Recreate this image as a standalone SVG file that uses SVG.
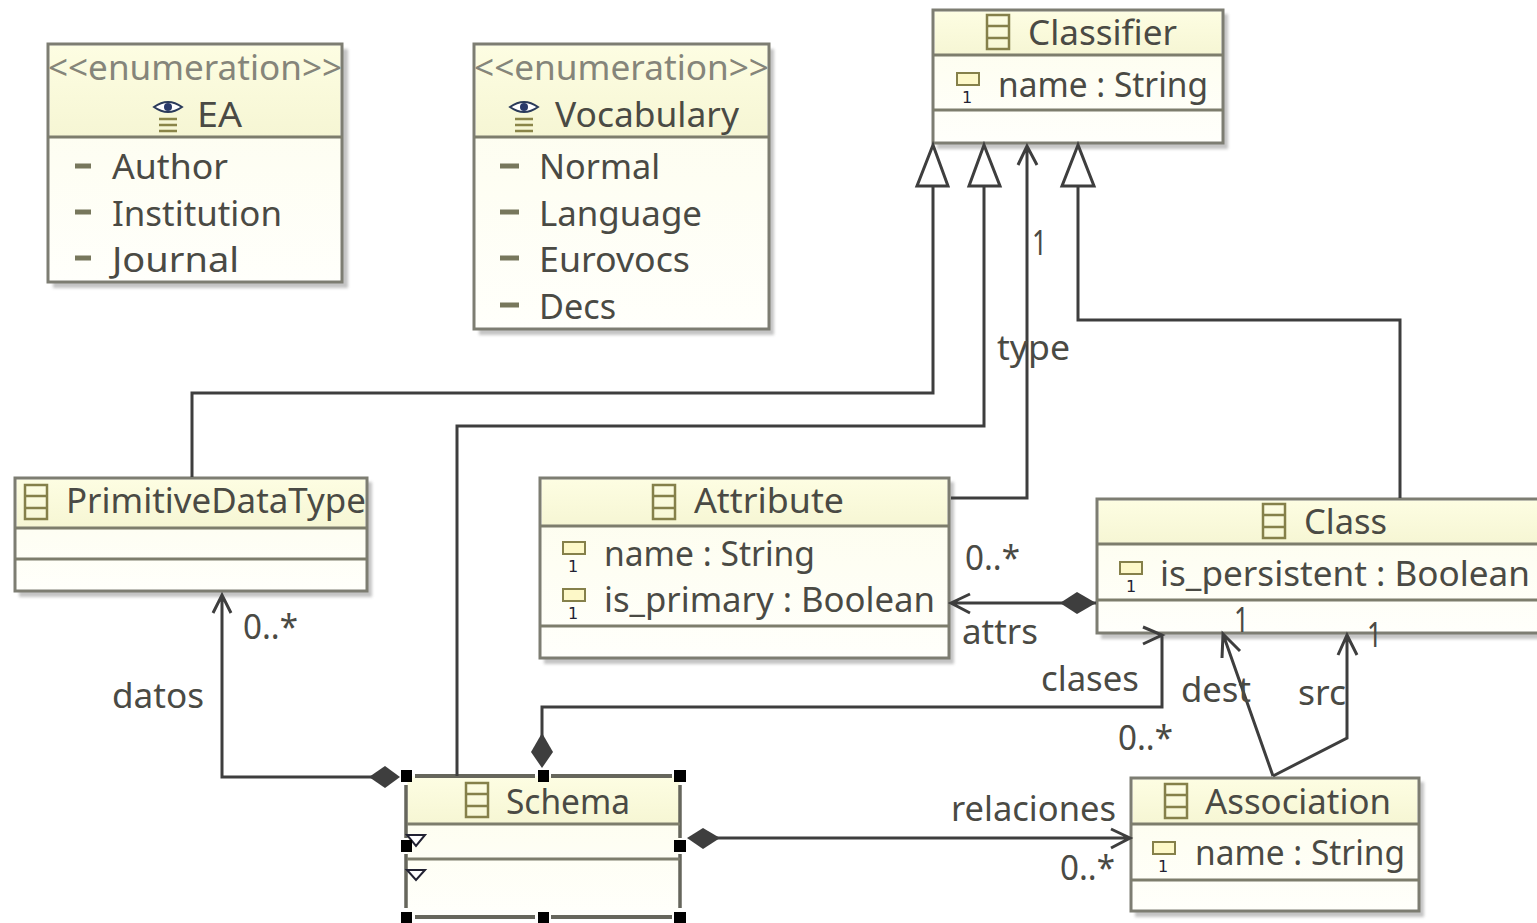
<svg xmlns="http://www.w3.org/2000/svg" width="1537" height="923" viewBox="0 0 1537 923">
<style>
text{font-family:"Noto Sans","Open Sans","DejaVu Sans",sans-serif;font-size:35px;fill:#4a4a44}
.st{fill:#85857a}
.one{font-size:16px;fill:#223;font-family:"DejaVu Sans",sans-serif}
.box{fill:url(#bg);stroke:#7d7d72;stroke-width:3}
.sh{fill:#c4c4c4;filter:url(#bl)}
.hd{fill:url(#hg)}
.sep{stroke:#7d7d6c;stroke-width:3;fill:none}
.c{fill:none;stroke:#3e3e3e;stroke-width:3}
.tri{fill:#fff;stroke:#3e3e3e;stroke-width:3}
.dia{fill:#3e3e3e;stroke:none}
.ic{fill:none;stroke:#85804a;stroke-width:2.5}
.pr{fill:#fdf8c8;stroke:#85804a;stroke-width:2}
.dash{stroke:#77775c;stroke-width:5}
.h{fill:#000}
</style>
<defs>
<filter id="bl" x="-5%" y="-5%" width="110%" height="110%"><feGaussianBlur stdDeviation="1.5"/></filter>
<linearGradient id="hg" x1="0" y1="0" x2="0" y2="1"><stop offset="0" stop-color="#fdfde2"/><stop offset="1" stop-color="#f6f6d4"/></linearGradient>
<linearGradient id="bg" x1="0" y1="0" x2="0" y2="1"><stop offset="0" stop-color="#fdfdec"/><stop offset="1" stop-color="#fffffb"/></linearGradient>
<g id="ci"><rect class="ic" x="0" y="0" width="22" height="34"/><path class="ic" d="M0 11H22M0 23H22"/></g>
<rect id="pi" class="pr" x="0" y="0" width="22" height="12"/>
<g id="ei"><path d="M-14 0Q0 -10 14 0Q0 10 -14 0Z" fill="#fff" stroke="#2a3a5a" stroke-width="2"/><circle r="4" fill="#2a3a6a"/><path d="M-9 12H9M-9 18H9M-9 24H9" stroke="#8a8548" stroke-width="2.5"/></g>
</defs>

<g id="node-ea">
<rect class="sh" x="53" y="49" width="295" height="239"/>
<rect class="box" x="48" y="44" width="294" height="238"/>
<rect class="hd" x="50" y="46" width="290" height="90"/>
<line class="sep" x1="48" y1="137" x2="342" y2="137"/>
<text class="st" x="48" y="80" textLength="294" lengthAdjust="spacingAndGlyphs">&lt;&lt;enumeration&gt;&gt;</text>
<use href="#ei" x="168" y="107"/>
<text x="197" y="127" textLength="45" lengthAdjust="spacingAndGlyphs">EA</text>
<line class="dash" x1="75" y1="166" x2="91" y2="166"/><text x="112" y="179" textLength="116" lengthAdjust="spacingAndGlyphs">Author</text>
<line class="dash" x1="75" y1="212" x2="91" y2="212"/><text x="112" y="226" textLength="170" lengthAdjust="spacingAndGlyphs">Institution</text>
<line class="dash" x1="75" y1="258" x2="91" y2="258"/><text x="112" y="272" textLength="127" lengthAdjust="spacingAndGlyphs">Journal</text>
</g>

<g id="node-vocabulary">
<rect class="sh" x="479" y="49" width="295" height="286"/>
<rect class="box" x="474" y="44" width="295" height="285"/>
<rect class="hd" x="476" y="46" width="291" height="90"/>
<line class="sep" x1="474" y1="137" x2="769" y2="137"/>
<text class="st" x="474" y="80" textLength="295" lengthAdjust="spacingAndGlyphs">&lt;&lt;enumeration&gt;&gt;</text>
<use href="#ei" x="524" y="107"/>
<text x="555" y="127" textLength="184" lengthAdjust="spacingAndGlyphs">Vocabulary</text>
<line class="dash" x1="500" y1="166" x2="519" y2="166"/><text x="539" y="179" textLength="121" lengthAdjust="spacingAndGlyphs">Normal</text>
<line class="dash" x1="500" y1="212" x2="519" y2="212"/><text x="539" y="226" textLength="163" lengthAdjust="spacingAndGlyphs">Language</text>
<line class="dash" x1="500" y1="258" x2="519" y2="258"/><text x="539" y="272" textLength="151" lengthAdjust="spacingAndGlyphs">Eurovocs</text>
<line class="dash" x1="500" y1="305" x2="519" y2="305"/><text x="539" y="319" textLength="77" lengthAdjust="spacingAndGlyphs">Decs</text>
</g>

<g id="node-classifier">
<rect class="sh" x="937" y="14" width="291" height="135"/>
<rect class="box" x="933" y="10" width="290" height="133"/>
<rect class="hd" x="935" y="12" width="286" height="42"/>
<path class="sep" d="M933 55H1223M933 110H1223"/>
<use href="#ci" x="987" y="15"/>
<text x="1028" y="45" textLength="149" lengthAdjust="spacingAndGlyphs">Classifier</text>
<use href="#pi" x="957" y="73"/><text class="one" x="962" y="103">1</text>
<text x="998" y="97" textLength="210" lengthAdjust="spacingAndGlyphs">name : String</text>
</g>

<g id="node-primitivedatatype">
<rect class="sh" x="19" y="482" width="353" height="115"/>
<rect class="box" x="15" y="478" width="352" height="113"/>
<rect class="hd" x="17" y="480" width="348" height="47"/>
<path class="sep" d="M15 528H367M15 559H367"/>
<use href="#ci" x="25" y="485"/>
<text x="66" y="513" textLength="300" lengthAdjust="spacingAndGlyphs">PrimitiveDataType</text>
</g>

<g id="node-attribute">
<rect class="sh" x="544" y="482" width="410" height="182"/>
<rect class="box" x="540" y="478" width="409" height="180"/>
<rect class="hd" x="542" y="480" width="405" height="45"/>
<path class="sep" d="M540 526H949M540 626H949"/>
<use href="#ci" x="653" y="485"/>
<text x="694" y="513" textLength="150" lengthAdjust="spacingAndGlyphs">Attribute</text>
<use href="#pi" x="563" y="542"/><text class="one" x="568" y="572">1</text>
<text x="604" y="566" textLength="211" lengthAdjust="spacingAndGlyphs">name : String</text>
<use href="#pi" x="563" y="589"/><text class="one" x="568" y="619">1</text>
<text x="604" y="612" textLength="331" lengthAdjust="spacingAndGlyphs">is_primary : Boolean</text>
</g>

<g id="node-class">
<rect class="sh" x="1101" y="503" width="440" height="136"/>
<rect class="box" x="1097" y="499" width="444" height="134"/>
<rect class="hd" x="1099" y="501" width="438" height="42"/>
<path class="sep" d="M1097 544H1537M1097 600H1537"/>
<use href="#ci" x="1263" y="504"/>
<text x="1304" y="534" textLength="83" lengthAdjust="spacingAndGlyphs">Class</text>
<use href="#pi" x="1120" y="562"/><text class="one" x="1126" y="592">1</text>
<text x="1160" y="586" textLength="370" lengthAdjust="spacingAndGlyphs">is_persistent : Boolean</text>
</g>

<g id="node-association">
<rect class="sh" x="1135" y="782" width="289" height="135"/>
<rect class="box" x="1131" y="778" width="288" height="133"/>
<rect class="hd" x="1133" y="780" width="284" height="43"/>
<path class="sep" d="M1131 824H1419M1131 880H1419"/>
<use href="#ci" x="1165" y="784"/>
<text x="1205" y="814" textLength="186" lengthAdjust="spacingAndGlyphs">Association</text>
<use href="#pi" x="1153" y="842"/><text class="one" x="1158" y="872">1</text>
<text x="1195" y="865" textLength="210" lengthAdjust="spacingAndGlyphs">name : String</text>
</g>

<g id="node-schema">
<rect x="407" y="776" width="273" height="141" fill="url(#bg)"/>
<rect class="hd" x="408" y="778" width="271" height="45"/>
<path d="M415 776H535M551 776H672M415 917H535M551 917H672" stroke="#66665c" stroke-width="4" fill="none"/>
<path d="M406 785V838M406 854V908M680 785V838M680 854V908" stroke="#66665c" stroke-width="3.5" fill="none"/>
<path class="sep" d="M407 824H680M407 859H680"/>
<use href="#ci" x="466" y="783"/>
<text x="506" y="814" textLength="124" lengthAdjust="spacingAndGlyphs">Schema</text>
<path d="M407 835H425L416 846Z M407 870H425L416 880Z" fill="#fff" stroke="#223" stroke-width="2"/>
<g class="h">
<rect x="401" y="770" width="11" height="12"/><rect x="538" y="770" width="11" height="12"/><rect x="674" y="770" width="12" height="12"/>
<rect x="401" y="840" width="11" height="12"/><rect x="674" y="840" width="12" height="12"/>
<rect x="401" y="912" width="11" height="11"/><rect x="538" y="912" width="11" height="11"/><rect x="674" y="912" width="12" height="11"/>
</g>
</g>

<g id="connectors">
<path class="c" d="M192 477V393H933V186"/>
<path class="tri" d="M933 145L917 186H948Z"/>
<path class="c" d="M457 776V426H984V186"/>
<path class="tri" d="M984 145L969 186H1000Z"/>
<path class="c" d="M1400 498V320H1078V186"/>
<path class="tri" d="M1078 145L1062 186H1094Z"/>
<path class="c" d="M951 498H1027V146M1018 165L1027 146L1037 165"/>
<path class="c" d="M1096 603H951M970 594L951 603L970 613"/>
<path class="dia" d="M1060 603L1077 592L1096 603L1077 614Z"/>
<path class="c" d="M542 740V707H1162V634M1143 627L1162 635L1143 644"/>
<path class="dia" d="M542 733L553 752L542 768L531 752Z"/>
<path class="c" d="M222 595V777H372M213 613L222 595L231 613"/>
<path class="dia" d="M369 777L385 766L400 777L385 788Z"/>
<path class="c" d="M710 838H1130M1111 829L1130 838L1111 848"/>
<path class="dia" d="M687 838L703 828L720 838L703 849Z"/>
<path class="c" d="M1273 776L1223 634M1222 658L1223 634L1240 651"/>
<path class="c" d="M1273 776L1347 738V635M1338 655L1347 635L1357 655"/>
</g>

<g id="labels">
<text x="243" y="639" textLength="55" lengthAdjust="spacingAndGlyphs">0..*</text>
<text x="112" y="708" textLength="92" lengthAdjust="spacingAndGlyphs">datos</text>
<text x="997" y="360" textLength="73" lengthAdjust="spacingAndGlyphs">type</text>
<text x="1032" y="255" textLength="15" lengthAdjust="spacingAndGlyphs">1</text>
<text x="965" y="570" textLength="55" lengthAdjust="spacingAndGlyphs">0..*</text>
<text x="962" y="644" textLength="76" lengthAdjust="spacingAndGlyphs">attrs</text>
<text x="1041" y="691" textLength="98" lengthAdjust="spacingAndGlyphs">clases</text>
<text x="1181" y="702" textLength="70" lengthAdjust="spacingAndGlyphs">dest</text>
<text x="1298" y="705" textLength="48" lengthAdjust="spacingAndGlyphs">src</text>
<text x="1118" y="750" textLength="55" lengthAdjust="spacingAndGlyphs">0..*</text>
<text x="1234" y="632" textLength="15" lengthAdjust="spacingAndGlyphs">1</text>
<text x="1367" y="647" textLength="15" lengthAdjust="spacingAndGlyphs">1</text>
<text x="951" y="821" textLength="165" lengthAdjust="spacingAndGlyphs">relaciones</text>
<text x="1060" y="880" textLength="55" lengthAdjust="spacingAndGlyphs">0..*</text>
</g>
</svg>
